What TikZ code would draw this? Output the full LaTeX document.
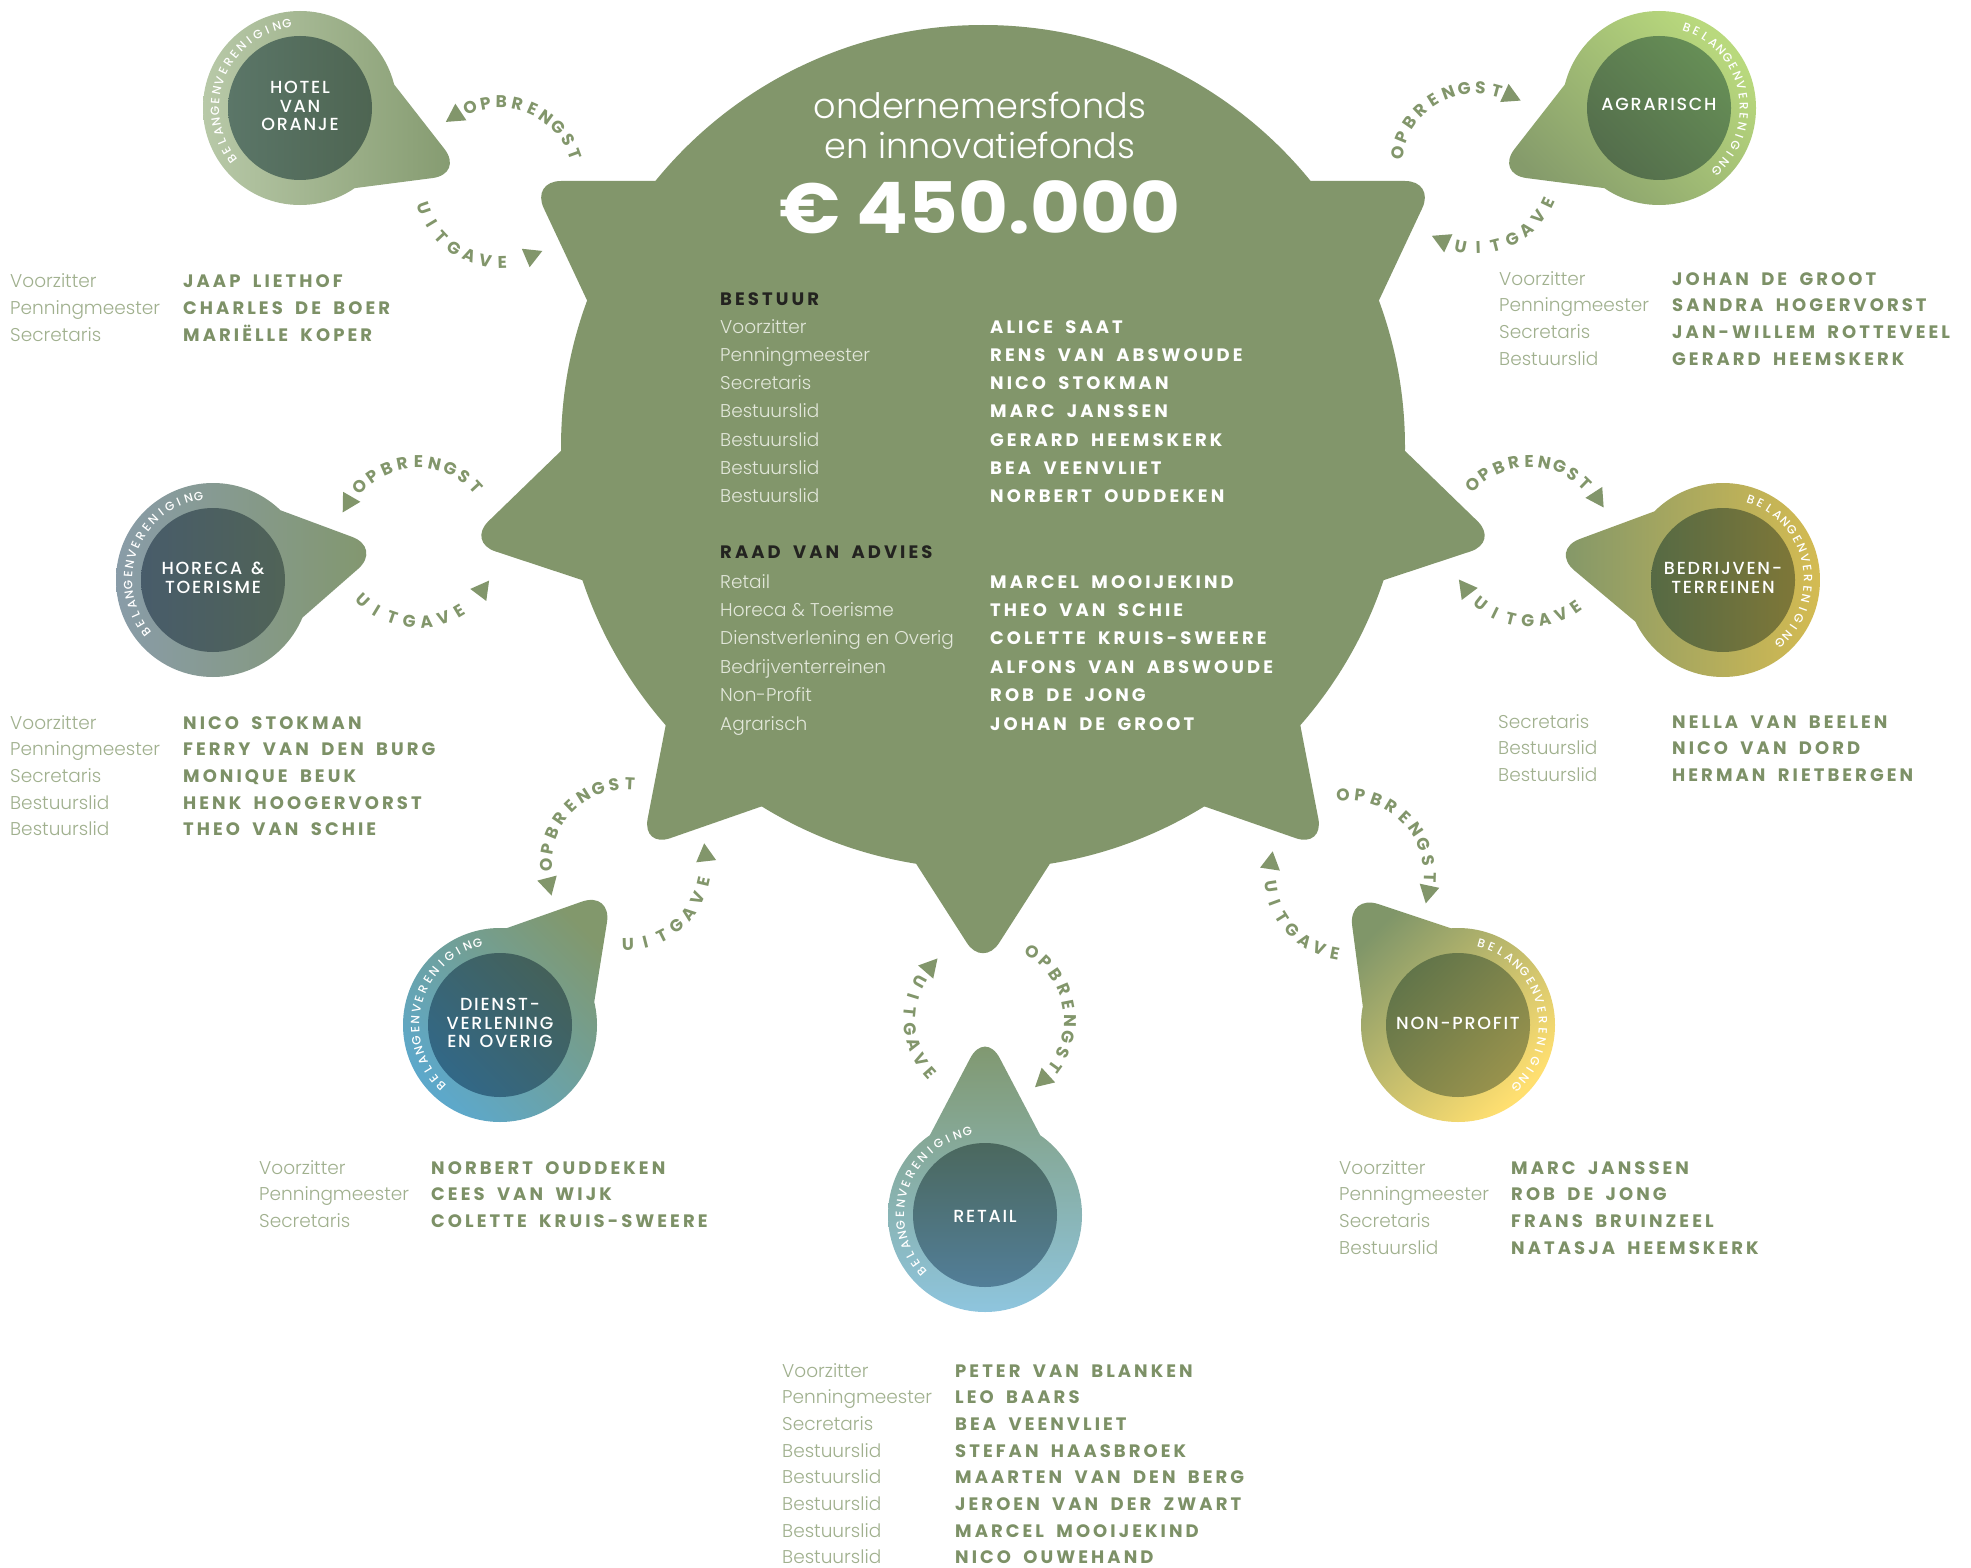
\documentclass[tikz,border=0pt]{standalone}
\usepackage{fontspec}
\setmainfont{Poppins}
\newfontfamily\lightfont{Poppins Light}
\newfontfamily\namefont{Poppins Bold}[LetterSpace=17,WordSpace=1.8]
\newfontfamily\titlefont{Poppins Medium}[LetterSpace=10,WordSpace=1.4]
\newfontfamily\flowfont{Poppins Bold}
\newfontfamily\ringfont{Poppins Medium}
\usetikzlibrary{calc}

\definecolor{hubgreen}{RGB}{130,150,107}
\definecolor{rolegreen}{RGB}{160,176,142}
\definecolor{namegreen}{RGB}{125,145,103}
\definecolor{hublabel}{RGB}{226,231,218}
\definecolor{hubheadc}{RGB}{35,35,32}
% ring colours: A = spike side, B = far side
\definecolor{hotelA}{RGB}{131,153,110}  \definecolor{hotelB}{RGB}{184,201,168}
\definecolor{hotelinA}{RGB}{78,101,82}  \definecolor{hotelinB}{RGB}{91,118,104}
\definecolor{agrA}{RGB}{133,155,107}    \definecolor{agrB}{RGB}{185,217,125}
\definecolor{agrinA}{RGB}{84,110,76}    \definecolor{agrinB}{RGB}{102,142,86}
\definecolor{horA}{RGB}{130,151,108}    \definecolor{horB}{RGB}{137,156,168}
\definecolor{horinA}{RGB}{80,99,87}     \definecolor{horinB}{RGB}{72,92,106}
\definecolor{bedA}{RGB}{128,150,106}    \definecolor{bedB}{RGB}{212,187,82}
\definecolor{bedinA}{RGB}{86,106,68}    \definecolor{bedinB}{RGB}{126,119,56}
\definecolor{dieA}{RGB}{130,152,108}    \definecolor{dieB}{RGB}{93,168,202}
\definecolor{dieinA}{RGB}{68,97,90}     \definecolor{dieinB}{RGB}{50,104,135}
\definecolor{retA}{RGB}{128,150,106}    \definecolor{retB}{RGB}{142,197,222}
\definecolor{retinA}{RGB}{75,104,94}    \definecolor{retinB}{RGB}{82,126,152}
\definecolor{nonA}{RGB}{128,150,105}    \definecolor{nonB}{RGB}{255,223,112}
\definecolor{noninA}{RGB}{98,117,74}    \definecolor{noninB}{RGB}{152,146,76}

% letters along an arc: centre, radius, first angle, step, turn, style, letters
\newcommand{\arcword}[7]{%
  \foreach \ch [count=\idx from 0] in {#7} {%
    \pgfmathsetmacro{\ang}{#3+\idx*(#4)}%
    \pgfmathsetmacro{\rot}{\ang+(#5)}%
    \node[#6, rotate=\rot] at ($(#1)+(\ang:#2)$) {\ch};
  }}
% small triangle on the loop: centre, radius, angle, +1 ccw / -1 cw
\newcommand{\flowtip}[4]{%
  \fill[hubgreen, shift={(#1)}, rotate=#3] (#2-10,{-6*(#4)}) -- (#2+10,{-6*(#4)}) -- (#2,{12*(#4)}) -- cycle;}
% ring with spike: centre, base, tip, base, ring colours, angle, inner colours
\newcommand{\blob}[9]{%
  \shade[top color=#5, bottom color=#6, shading angle=#7] (#1) circle (97) [rounded corners=32] #2 -- #3 -- #4 -- cycle;
  \shade[top color=#8, bottom color=#9, shading angle=#7] (#1) circle (72);}
% two column list: prefix, x role, x name, first baseline, pitch, style prefix, list
\newcommand{\boardlist}[7]{%
  \foreach \rolename/\person [count=\idx from 0] in {#7} {%
    \node[#6role] (#1r\idx) at (#2,{-#4-\idx*#5}) {\rolename};
    \node[#6who] (#1n\idx) at (#3,{-#4-\idx*#5}) {\person};
  }}

\begin{document}
\begin{tikzpicture}[x=1pt,y=1pt,
    role/.style={anchor=base west, inner sep=0, text=rolegreen, font=\lightfont\fontsize{18.5}{20}\selectfont},
    who/.style={anchor=base west, inner sep=0, text=namegreen, font=\namefont\fontsize{18}{20}\selectfont},
    hubrole/.style={role, text=hublabel},
    hubwho/.style={who, text=white},
    hubhead/.style={who, text=hubheadc},
    flowletter/.style={inner sep=0, text=hubgreen, font=\flowfont\fontsize{17}{17}\selectfont},
    ringletter/.style={inner sep=0, text=white, font=\ringfont\fontsize{12}{12}\selectfont},
    clustertitle/.style={align=center, inner sep=0, text=white, font=\titlefont\fontsize{17.5}{18.5}\selectfont}
  ]
  \fill[white] (0,0) rectangle (1971,-1568);
  \useasboundingbox (0,0) rectangle (1971,-1568);

  % central fund
  \coordinate (hub) at (983,-447);
  \fill[hubgreen] (hub) circle (422);
  \fill[hubgreen, rounded corners=30]
    (705,-181) -- (531,-181) -- (608,-345) -- cycle
    (1261,-181) -- (1435,-181) -- (1358,-345) -- cycle
    (596,-417) -- (467,-542) -- (629.5,-595.7) -- cycle
    (1370,-417) -- (1499,-542) -- (1336.5,-595.7) -- cycle
    (675.6,-673.9) -- (642,-848) -- (807,-790.6) -- cycle
    (1290.4,-673.9) -- (1324,-848) -- (1159,-790.6) -- cycle
    (890,-823) -- (983,-968) -- (1076,-823) -- cycle;
  \node[anchor=base, inner sep=0, text=white, font=\lightfont\fontsize{35}{40}\selectfont] (fonds1) at (980,-119) {ondernemersfonds};
  \node[anchor=base, inner sep=0, text=white, font=\lightfont\fontsize{35}{40}\selectfont] (fonds2) at (980,-159) {en innovatiefonds};
  \node[anchor=base, inner sep=0, text=white, xscale=1.08, font=\bfseries\fontsize{71}{74}\selectfont] (amount) at (980,-233) {€ 450.000};
  \node[hubhead] (bestuur) at (720,-305) {BESTUUR};
  \boardlist{hb}{720}{990}{333}{28.3}{hub}{Voorzitter/ALICE SAAT, Penningmeester/RENS VAN ABSWOUDE, Secretaris/NICO STOKMAN, Bestuurslid/MARC JANSSEN, Bestuurslid/GERARD HEEMSKERK, Bestuurslid/BEA VEENVLIET, Bestuurslid/NORBERT OUDDEKEN}
  \node[hubhead] (raad) at (720,-558) {RAAD VAN ADVIES};
  \boardlist{ra}{720}{990}{588}{28.4}{hub}{Retail/MARCEL MOOIJEKIND, Horeca \& Toerisme/THEO VAN SCHIE, Dienstverlening en Overig/COLETTE KRUIS-SWEERE, Bedrijventerreinen/ALFONS VAN ABSWOUDE, Non-Profit/ROB DE JONG, Agrarisch/JOHAN DE GROOT}

  % Hotel van Oranje
  \coordinate (hotel) at (300,-108);
  \blob{hotel}{(317,-193)}{(464,-174)}{(368,-51)}{hotelA}{hotelB}{-90}{hotelinA}{hotelinB}
  \node[clustertitle] (hoteltitle) at (300,-106) {HOTEL\\VAN\\ORANJE};
  \arcword{hotel}{85}{217}{-6.95}{-90}{ringletter}{B,E,L,A,N,G,E,N,V,E,R,E,N,I,G,I,N,G}
  \coordinate (hotelloop) at (500,-182);
  \arcword{hotelloop}{80}{112}{-11.5}{-90}{flowletter}{O,P,B,R,E,N,G,S,T}
  \arcword{hotelloop}{80}{199}{12.1}{90}{flowletter}{U,I,T,G,A,V,E}
  \flowtip{hotelloop}{80}{123.5}{1}
  \flowtip{hotelloop}{80}{293}{1}
  \boardlist{hv}{10}{183}{287}{27}{}{Voorzitter/JAAP LIETHOF, Penningmeester/CHARLES DE BOER, Secretaris/MARIËLLE KOPER}

  % Agrarisch
  \coordinate (agrarisch) at (1659,-108);
  \blob{agrarisch}{(1591,-51)}{(1495,-174)}{(1642,-193)}{agrA}{agrB}{135}{agrinA}{agrinB}
  \node[clustertitle] (agrtitle) at (1659,-104) {AGRARISCH};
  \arcword{agrarisch}{85}{71}{-6.95}{-90}{ringletter}{B,E,L,A,N,G,E,N,V,E,R,E,N,I,G,I,N,G}
  \coordinate (agrloop) at (1476,-168);
  \arcword{agrloop}{80}{169}{-11.75}{-90}{flowletter}{O,P,B,R,E,N,G,S,T}
  \arcword{agrloop}{80}{259}{12.6}{90}{flowletter}{U,I,T,G,A,V,E}
  \flowtip{agrloop}{80}{65}{-1}
  \flowtip{agrloop}{80}{245.5}{-1}
  \boardlist{ag}{1499}{1672}{285}{26.7}{}{Voorzitter/JOHAN DE GROOT, Penningmeester/SANDRA HOGERVORST, Secretaris/JAN-WILLEM ROTTEVEEL, Bestuurslid/GERARD HEEMSKERK}

  % Horeca & Toerisme
  \coordinate (horeca) at (213,-580);
  \blob{horeca}{(270,-646)}{(382,-548)}{(247.5,-498)}{horA}{horB}{-90}{horinA}{horinB}
  \node[clustertitle] (hortitle) at (213,-578) {HORECA \&\\TOERISME};
  \arcword{horeca}{85}{218}{-6.95}{-90}{ringletter}{B,E,L,A,N,G,E,N,V,E,R,E,N,I,G,I,N,G}
  \coordinate (horloop) at (418,-542);
  \arcword{horloop}{80}{136.5}{-11.7}{-90}{flowletter}{O,P,B,R,E,N,G,S,T}
  \arcword{horloop}{80}{226.5}{12.4}{90}{flowletter}{U,I,T,G,A,V,E}
  \flowtip{horloop}{80}{150}{1}
  \flowtip{horloop}{80}{323}{1}
  \boardlist{ht}{10}{183}{729}{26.7}{}{Voorzitter/NICO STOKMAN, Penningmeester/FERRY VAN DEN BURG, Secretaris/MONIQUE BEUK, Bestuurslid/HENK HOOGERVORST, Bestuurslid/THEO VAN SCHIE}

  % Bedrijventerreinen
  \coordinate (bedrijven) at (1723,-580);
  \blob{bedrijven}{(1690.5,-498)}{(1550,-550)}{(1667.6,-648.7)}{bedA}{bedB}{90}{bedinA}{bedinB}
  \node[clustertitle] (bedtitle) at (1723,-578) {BEDRIJVEN-\\TERREINEN};
  \arcword{bedrijven}{85}{71}{-7}{-90}{ringletter}{B,E,L,A,N,G,E,N,V,E,R,E,N,I,G,I,N,G}
  \coordinate (bedloop) at (1530,-541);
  \arcword{bedloop}{80}{135.5}{-11.2}{-90}{flowletter}{O,P,B,R,E,N,G,S,T}
  \arcword{bedloop}{80}{231.8}{12.2}{90}{flowletter}{U,I,T,G,A,V,E}
  \flowtip{bedloop}{80}{33}{-1}
  \flowtip{bedloop}{80}{217}{-1}
  \boardlist{bt}{1498}{1672}{728}{26.7}{}{Secretaris/NELLA VAN BEELEN, Bestuurslid/NICO VAN DORD, Bestuurslid/HERMAN RIETBERGEN}

  % Dienstverlening en Overig
  \coordinate (dienst) at (500,-1025);
  \blob{dienst}{(588.7,-1036.5)}{(612,-891)}{(472.3,-940.3)}{dieA}{dieB}{-45}{dieinA}{dieinB}
  \node[clustertitle] (dietitle) at (500,-1023) {DIENST-\\VERLENING\\EN OVERIG};
  \arcword{dienst}{85}{226}{-7.1}{-90}{ringletter}{B,E,L,A,N,G,E,N,V,E,R,E,N,I,G,I,N,G}
  \coordinate (dieloop) at (626,-864);
  \arcword{dieloop}{80}{180.7}{-11.7}{-90}{flowletter}{O,P,B,R,E,N,G,S,T}
  \arcword{dieloop}{80}{271.4}{12.6}{90}{flowletter}{U,I,T,G,A,V,E}
  \flowtip{dieloop}{80}{194.4}{1}
  \flowtip{dieloop}{80}{6.3}{1}
  \boardlist{dv}{259}{431}{1174}{26.7}{}{Voorzitter/NORBERT OUDDEKEN, Penningmeester/CEES VAN WIJK, Secretaris/COLETTE KRUIS-SWEERE}

  % Retail
  \coordinate (retail) at (985,-1215);
  \blob{retail}{(1058.6,-1170.4)}{(985,-1030)}{(911.4,-1170.4)}{retA}{retB}{0}{retinA}{retinB}
  \node[clustertitle] (rettitle) at (985,-1216) {RETAIL};
  \arcword{retail}{85}{222}{-7.06}{-90}{ringletter}{B,E,L,A,N,G,E,N,V,E,R,E,N,I,G,I,N,G}
  \coordinate (retloop) at (990,-1020);
  \arcword{retloop}{80}{57.9}{-11.7}{-90}{flowletter}{O,P,B,R,E,N,G,S,T}
  \arcword{retloop}{80}{151}{11.8}{90}{flowletter}{U,I,T,G,A,V,E}
  \flowtip{retloop}{80}{-47.6}{-1}
  \flowtip{retloop}{80}{139}{-1}
  \boardlist{rt}{782}{955}{1377}{26.7}{}{Voorzitter/PETER VAN BLANKEN, Penningmeester/LEO BAARS, Secretaris/BEA VEENVLIET, Bestuurslid/STEFAN HAASBROEK, Bestuurslid/MAARTEN VAN DEN BERG, Bestuurslid/JEROEN VAN DER ZWART, Bestuurslid/MARCEL MOOIJEKIND, Bestuurslid/NICO OUWEHAND}

  % Non-Profit
  \coordinate (nonprofit) at (1458,-1025);
  \blob{nonprofit}{(1484.9,-939.6)}{(1348,-894)}{(1367.2,-1039.7)}{nonA}{nonB}{45}{noninA}{noninB}
  \node[clustertitle] (nontitle) at (1458,-1023) {NON-PROFIT};
  \arcword{nonprofit}{85}{74}{-7.08}{-90}{ringletter}{B,E,L,A,N,G,E,N,V,E,R,E,N,I,G,I,N,G}
  \coordinate (nonloop) at (1350,-875);
  \arcword{nonloop}{80}{95}{-12.1}{-90}{flowletter}{O,P,B,R,E,N,G,S,T}
  \arcword{nonloop}{80}{188.5}{11.75}{90}{flowletter}{U,I,T,G,A,V,E}
  \flowtip{nonloop}{80}{-12}{-1}
  \flowtip{nonloop}{80}{171.5}{-1}
  \boardlist{np}{1339}{1511}{1174}{26.7}{}{Voorzitter/MARC JANSSEN, Penningmeester/ROB DE JONG, Secretaris/FRANS BRUINZEEL, Bestuurslid/NATASJA HEEMSKERK}
\end{tikzpicture}
\end{document}
